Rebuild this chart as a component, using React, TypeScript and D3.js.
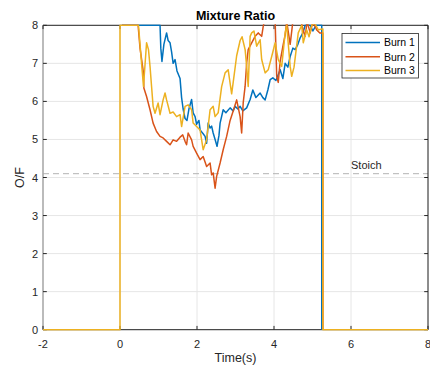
import React from "react";
import * as d3 from "d3";

const xTicks = [-2, 0, 2, 4, 6, 8];
const yTicks = [0, 1, 2, 3, 4, 5, 6, 7, 8];
const seriesNames = ["Burn 1", "Burn 2", "Burn 3"];
const seriesColors = ["#0072BD", "#D95319", "#EDB120"];
const stoichValue = 4.1;
const preTime = -2;
const igniteTime = 0;
const endTime = 8;
const capValue = 8;

const burn1T = [1.04,1.06,1.09,1.14,1.21,1.25,1.30,1.34,1.38,1.43,1.48,1.56,1.60,1.64,1.69,1.74,1.79,1.86,1.90,1.95,1.99,2.05,2.08,2.16,2.21,2.25,2.29,2.34,2.38,2.42,2.47,2.52,2.57,2.60,2.68,2.75,2.86,2.94,2.99,3.06,3.12,3.19,3.29,3.38,3.45,3.53,3.64,3.71,3.77,3.84,3.90,3.97,4.05,4.16,4.23,4.29,4.36,4.42,4.49,4.55,4.62,4.68,4.75,4.81,4.94,5.01,5.09,5.19,5.24];
const burn1V = [8,7.4,7.05,7.5,7.8,7.6,7.54,7.3,7.0,7.1,6.8,6.6,6.1,5.8,5.55,5.5,5.8,6.05,5.7,5.6,5.4,5.5,5.25,5.15,5.08,4.9,5.43,5.3,5.35,5.17,5.0,4.82,5.1,5.43,5.78,5.7,5.83,5.75,5.87,5.8,5.87,5.75,5.83,6.05,6.3,6.1,6.22,6.1,6.04,6.3,6.57,6.62,6.55,6.83,6.6,7.0,6.9,7.18,7.4,7.36,7.5,7.67,7.8,8.0,8.0,7.85,8.0,8.0,8.0];

const burn2T = [0.47,0.52,0.61,0.62,0.69,0.78,0.86,0.95,1.04,1.12,1.21,1.30,1.38,1.47,1.56,1.63,1.69,1.73,1.77,1.86,1.90,1.99,2.08,2.16,2.25,2.34,2.38,2.42,2.47,2.51,2.60,2.68,2.77,2.86,2.94,3.03,3.12,3.16,3.20,3.25,3.29,3.33,3.42,3.51,3.59,3.68,3.72,3.77,3.95,4.03,4.07,4.11,4.16,4.24,4.29,4.33,4.42,4.49,4.68,4.75,4.81,4.86,4.94,5.01,5.11,5.19,5.27];
const burn2V = [8,7.4,6.75,6.35,6.13,5.78,5.43,5.21,5.08,5.04,4.95,4.86,4.99,4.95,5.06,5.12,4.95,4.86,5.17,4.99,4.82,4.64,4.47,4.55,4.29,4.38,4.07,4.12,3.72,4.03,4.38,4.73,5.08,5.5,5.75,6.04,5.6,5.17,5.96,6.4,7.01,7.36,7.54,7.71,7.8,7.71,7.97,8.2,8.3,8.1,6.66,6.5,7.05,7.5,7.75,8.1,7.5,8.1,8.2,7.9,7.71,8.1,7.8,8.1,7.88,7.8,7.8];

const burn3T = [0.48,0.56,0.61,0.69,0.74,0.78,0.82,0.86,0.91,0.99,1.04,1.12,1.17,1.21,1.30,1.38,1.47,1.56,1.60,1.69,1.77,1.86,1.90,1.99,2.08,2.12,2.16,2.25,2.34,2.42,2.47,2.55,2.64,2.73,2.81,2.90,2.94,3.03,3.12,3.17,3.25,3.29,3.33,3.38,3.42,3.48,3.55,3.64,3.68,3.77,3.85,3.94,4.03,4.11,4.20,4.29,4.33,4.42,4.46,4.52,4.63,4.72,4.76,4.85,4.91,4.98,5.06,5.15,5.24,5.27];
const burn3V = [8,7.0,6.39,7.54,7.36,6.92,6.39,5.87,5.69,5.96,5.65,6.04,6.22,6.04,5.69,5.72,5.6,5.65,5.34,5.87,5.91,5.78,5.43,5.34,5.25,4.99,4.73,4.99,5.78,5.87,5.6,5.7,6.39,6.75,6.83,6.2,6.5,7.2,7.6,7.7,7.36,6.92,6.39,7.71,7.8,7.85,7.45,7.62,7.1,6.75,6.83,7.18,7.54,7.1,6.92,7.8,8.0,6.92,6.66,6.9,7.8,8.0,7.54,7.88,7.7,8.0,8.05,7.88,7.9,7.9];

const burnTimes = [burn1T, burn2T, burn3T];
const burnValues = [burn1V, burn2V, burn3V];

const W = 430;
const H = 366;
const L = 43;
const R = 428;
const T = 25.3;
const B = 329.7;
const FONT = "'Liberation Sans', Arial, Helvetica, sans-serif";
const AX = "#262626";

export default function App() {
  const x = d3.scaleLinear().domain([-2, 8]).range([L, R]);
  const y = d3.scaleLinear().domain([0, 8]).range([B, T]);
  const line = d3
    .line<[number, number]>()
    .x((d) => x(d[0]))
    .y((d) => y(d[1]));

  const paths = burnTimes.map((ts, i) => {
    const vs = burnValues[i];
    const top = i === burnTimes.length - 1;
    const pts: [number, number][] = top
      ? [
          [preTime, 0],
          [igniteTime, 0],
          [igniteTime, capValue],
        ]
      : [[igniteTime + 0.05, capValue]];
    ts.forEach((t, j) => pts.push([t, vs[j]]));
    const last = ts[ts.length - 1];
    pts.push([last, 0]);
    if (top) pts.push([endTime, 0]);
    return line(pts) || "";
  });

  const legendX = 342;
  const legendY = 33.5;
  const rowY = [42.5, 56.7, 70.6];

  return (
    <svg width={W} height={H} style={{ display: "block", position: "absolute", left: 0, top: 0, background: "#fff" }}>
      <defs>
        <clipPath id="plotclip">
          <rect x={L - 1} y={T - 1} width={R - L + 2} height={B - T + 2} />
        </clipPath>
      </defs>
      <rect x={0} y={0} width={W} height={H} fill="#fff" />
      {/* grid */}
      <g stroke="#e6e6e6" strokeWidth={1}>
        {xTicks.map((t) => (
          <line key={"gx" + t} x1={x(t)} x2={x(t)} y1={T} y2={B} />
        ))}
        {yTicks.map((t) => (
          <line key={"gy" + t} x1={L} x2={R} y1={y(t)} y2={y(t)} />
        ))}
      </g>
      {/* stoich line */}
      <line
        x1={L}
        x2={R}
        y1={y(stoichValue)}
        y2={y(stoichValue)}
        stroke="#b3b3b3"
        strokeWidth={1}
        strokeDasharray="6,4"
      />
      <text x={x(6)} y={y(stoichValue) - 5} fontFamily={FONT} fontSize={11} fill={AX}>
        Stoich
      </text>
      {/* axes box */}
      <g stroke={AX} strokeWidth={1} fill="none">
        <line x1={L} x2={R} y1={B} y2={B} />
        <line x1={L} x2={R} y1={T} y2={T} />
        <line x1={R} x2={R} y1={T} y2={B} />
        <line x1={L} x2={L} y1={T} y2={B} stroke="#a8a8a8" strokeWidth={1.5} />
        {xTicks.map((t) => (
          <g key={"tx" + t}>
            <line x1={x(t)} x2={x(t)} y1={B} y2={B - 3.8} />
            <line x1={x(t)} x2={x(t)} y1={T} y2={T + 3.8} />
          </g>
        ))}
        {yTicks.map((t) => (
          <g key={"ty" + t}>
            <line x1={L} x2={L + 3.8} y1={y(t)} y2={y(t)} />
            <line x1={R} x2={R - 3.8} y1={y(t)} y2={y(t)} />
          </g>
        ))}
      </g>
      {/* series */}
      <g clipPath="url(#plotclip)" fill="none" strokeWidth={1.5} strokeLinejoin="round">
        {paths.map((p, i) => (
          <path key={i} d={p} stroke={seriesColors[i]} />
        ))}
      </g>
      {/* tick labels */}
      <g fontFamily={FONT} fontSize={11} fill={AX}>
        {xTicks.map((t) => (
          <text key={"lx" + t} x={x(t)} y={B + 18} textAnchor="middle">
            {t}
          </text>
        ))}
        {yTicks.map((t) => (
          <text key={"ly" + t} x={L - 5} y={y(t) + 4} textAnchor="end">
            {t}
          </text>
        ))}
      </g>
      {/* labels */}
      <text x={(L + R) / 2} y={19.5} textAnchor="middle" fontFamily={FONT} fontSize={12.5} fontWeight="bold" fill="#000">
        Mixture Ratio
      </text>
      <text x={(L + R) / 2} y={362} textAnchor="middle" fontFamily={FONT} fontSize={12.5} fill={AX}>
        Time(s)
      </text>
      <text
        transform={`translate(24, ${(T + B) / 2}) rotate(-90)`}
        textAnchor="middle"
        fontFamily={FONT}
        fontSize={12.5}
        fill={AX}
      >
        O/F
      </text>
      {/* legend */}
      <rect x={legendX} y={legendY} width={76.5} height={44.5} fill="#fff" stroke={AX} strokeWidth={0.8} />
      {seriesNames.map((n, i) => (
        <g key={n}>
          <line x1={345.5} x2={380} y1={rowY[i]} y2={rowY[i]} stroke={seriesColors[i]} strokeWidth={1.5} />
          <text x={384} y={rowY[i] + 3.8} fontFamily={FONT} fontSize={10.5} fill="#000">
            {n}
          </text>
        </g>
      ))}
    </svg>
  );
}
